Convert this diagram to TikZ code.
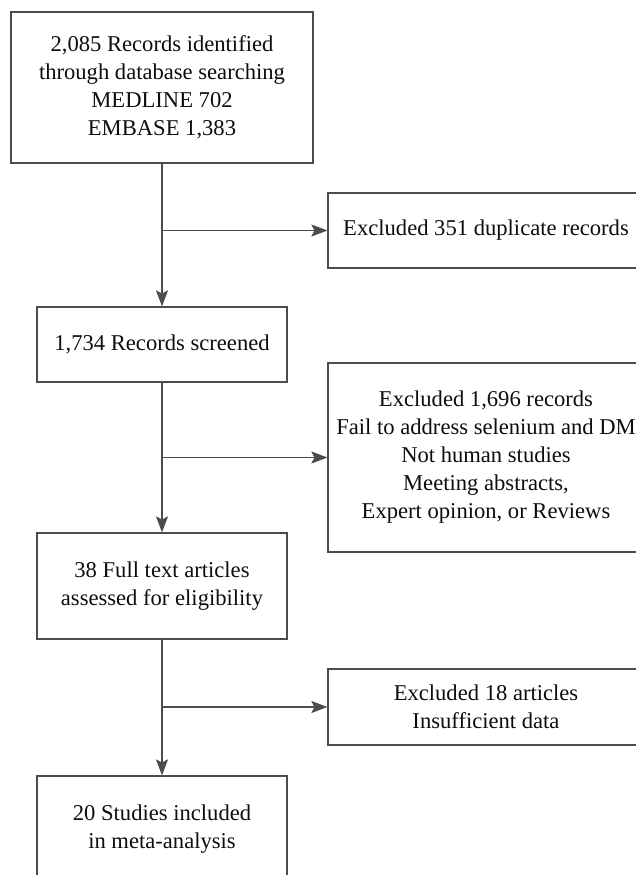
\documentclass[tikz,border=0pt]{standalone}
\usepackage{fontspec}
\setmainfont{Liberation Serif}
\usetikzlibrary{positioning, arrows.meta}
\tikzset{
        x=0.5pt, y=-0.5pt, % one unit = one pixel of the figure
        >={Stealth[length=8pt, width=6pt, inset=1.5pt]}, % solid arrow heads
        box/.style={draw=black!70, line width=0.6pt, align=center, inner sep=0pt,
                font=\fontsize{11.3}{14}\selectfont, text=black!95},
        side/.style={box, minimum width=158pt},
        main/.style={box, minimum width=125pt},
        flow/.style={->, draw=black!70, line width=0.6pt}
        }
\begin{document}
\begin{tikzpicture}
        \clip (0,0) rectangle (636,875);
        \node[box, minimum width=151pt, minimum height=75.5pt](recs) at (162,87.5)
                {2,085 Records identified\\through database searching\\MEDLINE 702\\EMBASE 1,383};
        \node[side, minimum height=37.5pt](dup) at (486,230.5){Excluded 351 duplicate records};
        \node[main, minimum height=37.5pt](scr) at (162,344.5){1,734 Records screened};
        \node[side, minimum height=94.5pt](excl) at (486,457.5)
                {Excluded 1,696 records\\Fail to address selenium and DM\\Not human studies\\Meeting abstracts,\\Expert opinion, or Reviews};
        \node[main, minimum height=53pt](full) at (162,586){38 Full text articles\\assessed for eligibility};
        \node[side, minimum height=38pt](insuf) at (486,707){Excluded 18 articles\\Insufficient data};
        \node[main, minimum height=53pt](incl) at (162,829){20 Studies included\\in meta-analysis};
        \draw[flow] (recs) -- (scr);
        \draw[flow] (scr) -- (full);
        \draw[flow] (full) -- (incl);
        \draw[flow] (recs.south |- dup.west) -- (dup.west);
        \draw[flow] (scr.south |- excl.west) -- (excl.west);
        \draw[flow] (full.south |- insuf.west) -- (insuf.west);
\end{tikzpicture}
\end{document}
